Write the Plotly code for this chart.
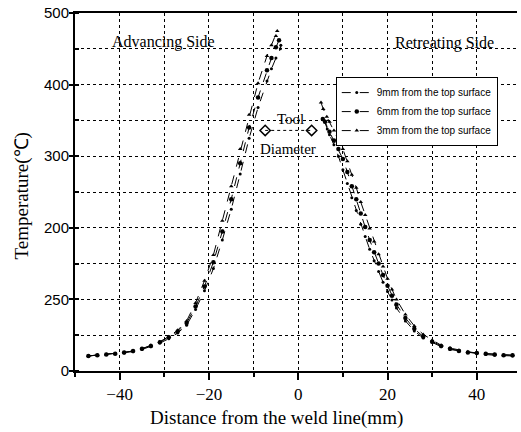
import plotly.graph_objects as go

# advancing side (left of weld line)
adv_x_9mm = [-47, -45, -43, -41, -39, -37, -35, -33, -31, -29, -27, -25, -23, -21, -19, -17, -15, -13, -11, -9, -7, -6, -5, -4, -3.9]
adv_t_9mm = [21, 22, 23, 24, 25, 27, 30, 34, 39, 45, 53, 64, 86, 112, 143, 183, 226, 275, 325, 368, 405, 422, 437, 450, 455]
adv_x_6mm = [-47, -45, -43, -41, -39, -37, -35, -33, -31, -29, -27, -25, -23, -21, -19, -17, -15, -13, -11, -9, -7, -6, -5, -4.3]
adv_t_6mm = [21, 22, 23, 24, 26, 28, 31, 35, 40, 47, 55, 67, 90, 118, 152, 195, 240, 290, 340, 382, 420, 437, 452, 462]
adv_x_3mm = [-47, -45, -43, -41, -39, -37, -35, -33, -31, -29, -27, -25, -23, -21, -19, -17, -15, -13, -11, -9, -7, -6, -5, -4.7]
adv_t_3mm = [21, 22, 23, 24, 26, 28, 31, 36, 41, 48, 57, 70, 95, 126, 162, 210, 258, 310, 358, 402, 440, 455, 468, 475]

# retreating side (right of weld line)
ret_x_9mm = [5.8, 6.5, 7, 8, 9, 10, 11, 12, 13, 14, 15, 16, 17, 18, 19, 20, 21, 22, 24, 26, 28, 30, 32, 34, 36, 38, 40, 42, 44, 46, 48]
ret_t_9mm = [350, 338, 330, 316, 300, 281, 262, 242, 224, 205, 188, 170, 154, 139, 124, 111, 99, 88, 70, 56, 46, 40, 34, 30, 28, 26, 25, 23, 22, 22, 21]
ret_x_6mm = [5.5, 6, 7, 8, 9, 10, 11, 12, 13, 14, 15, 16, 17, 18, 19, 20, 21, 22, 24, 26, 28, 30, 32, 34, 36, 38, 40, 42, 44, 46, 48]
ret_t_6mm = [352, 348, 334, 322, 310, 296, 278, 258, 240, 220, 201, 183, 166, 150, 134, 119, 105, 93, 74, 59, 48, 41, 35, 31, 28, 26, 25, 24, 23, 22, 22]
ret_x_3mm = [5.1, 5.6, 6.4, 7, 8, 9, 10, 11, 12, 13, 14, 15, 16, 17, 18, 19, 20, 21, 22, 24, 26, 28, 30, 32, 34, 36, 38, 40, 42, 44, 46, 48]
ret_t_3mm = [375, 366, 355, 348, 336, 323, 310, 293, 274, 256, 236, 218, 199, 181, 163, 146, 129, 114, 100, 79, 63, 51, 43, 36, 32, 29, 27, 25, 24, 23, 22, 22]

series_names = ["9mm from the top surface", "6mm from the top surface", "3mm from the top surface"]
series_symbols = ["circle", "circle", "triangle-up"]
series_sizes = [3, 4.5, 4]

tool_x = [-7.4, 3.0]
tool_t = [336, 336]

y_tickvals = [0, 100, 200, 300, 400, 500]
y_ticktext = ["0", "250", "200", "300", "400", "500"]
x_tickvals = [-40, -20, 0, 20, 40]

serif = "Liberation Serif"
sans = "Liberation Sans"

fig = go.Figure()

adv = [(adv_x_9mm, adv_t_9mm), (adv_x_6mm, adv_t_6mm), (adv_x_3mm, adv_t_3mm)]
ret = [(ret_x_9mm, ret_t_9mm), (ret_x_6mm, ret_t_6mm), (ret_x_3mm, ret_t_3mm)]

for i in range(3):
    xs = adv[i][0] + [None] + ret[i][0]
    ys = adv[i][1] + [None] + ret[i][1]
    fig.add_trace(go.Scatter(
        x=xs, y=ys, name=series_names[i], mode="lines+markers",
        line=dict(color="black", width=1, dash="dash"),
        marker=dict(color="black", size=series_sizes[i], symbol=series_symbols[i]),
        connectgaps=False,
    ))

# tool diameter marker
fig.add_trace(go.Scatter(
    x=tool_x, y=tool_t, mode="lines+markers", showlegend=False,
    line=dict(color="black", width=1, dash="dot"),
    marker=dict(symbol="diamond-open", size=8, color="black", line=dict(width=1.5)),
))

fig.add_annotation(x=-30.1, y=459, text="Advancing Side", showarrow=False,
                   font=dict(family=serif, size=16, color="black"))
fig.add_annotation(x=32.8, y=458, text="Retreating Side", showarrow=False,
                   font=dict(family=serif, size=16, color="black"))
fig.add_annotation(x=-1.8, y=352, text="Tool", showarrow=False,
                   font=dict(family=serif, size=15, color="black"))
fig.add_annotation(x=-2.2, y=310, text="Diameter", showarrow=False,
                   font=dict(family=serif, size=15, color="black"))

# axis titles
fig.add_annotation(xref="paper", yref="paper", x=0.457, y=-0.131,
                   xanchor="center", yanchor="middle",
                   text="Distance from the weld line(mm)", showarrow=False,
                   font=dict(family=serif, size=19, color="black"))
fig.add_annotation(xref="paper", yref="paper", x=-0.12, y=0.49, textangle=-90,
                   xanchor="center", yanchor="middle",
                   text="Temperature(℃)", showarrow=False,
                   font=dict(family=serif, size=19, color="black"))

fig.update_xaxes(
    range=[-50, 49], tickvals=x_tickvals, ticks="outside", ticklen=7,
    tickcolor="black", tickwidth=1.5, automargin=False,
    showline=True, linecolor="black", linewidth=2, mirror=True,
    showgrid=True, gridcolor="black", gridwidth=1, griddash="dot",
    zeroline=False, ticklabeloverflow="allow",
    tickfont=dict(family=serif, size=17, color="black"),
    minor=dict(dtick=10, ticks="outside", ticklen=4, tickcolor="black",
               showgrid=True, gridcolor="black", griddash="dot", gridwidth=1),
)
fig.update_yaxes(
    range=[0, 500], tickvals=y_tickvals, ticktext=y_ticktext,
    ticks="outside", ticklen=4, tickcolor="black", tickwidth=1.5,
    ticklabelstandoff=-3, ticklabeloverflow="allow", automargin=False,
    showline=True, linecolor="black", linewidth=2,
    showgrid=True, gridcolor="black", gridwidth=1, griddash="dot",
    zeroline=False,
    tickfont=dict(family=sans, size=15, color="black"),
    minor=dict(dtick=50, ticks="inside", ticklen=4, tickcolor="black",
               showgrid=True, gridcolor="black", griddash="dot", gridwidth=1),
)

fig.update_layout(
    width=521, height=432,
    margin=dict(l=75, r=4, t=13, b=61),
    plot_bgcolor="white", paper_bgcolor="white",
    legend=dict(x=0.59, y=0.821, xanchor="left", yanchor="top",
                bgcolor="white", bordercolor="black", borderwidth=1,
                font=dict(family=sans, size=10, color="black"),
                itemwidth=30, tracegroupgap=0),
)

# drop the default 8px body margin so the figure sits at the window corner
fig.write_html("out.html", config={"displayModeBar": False},
               post_script="document.body.style.margin='0';")
